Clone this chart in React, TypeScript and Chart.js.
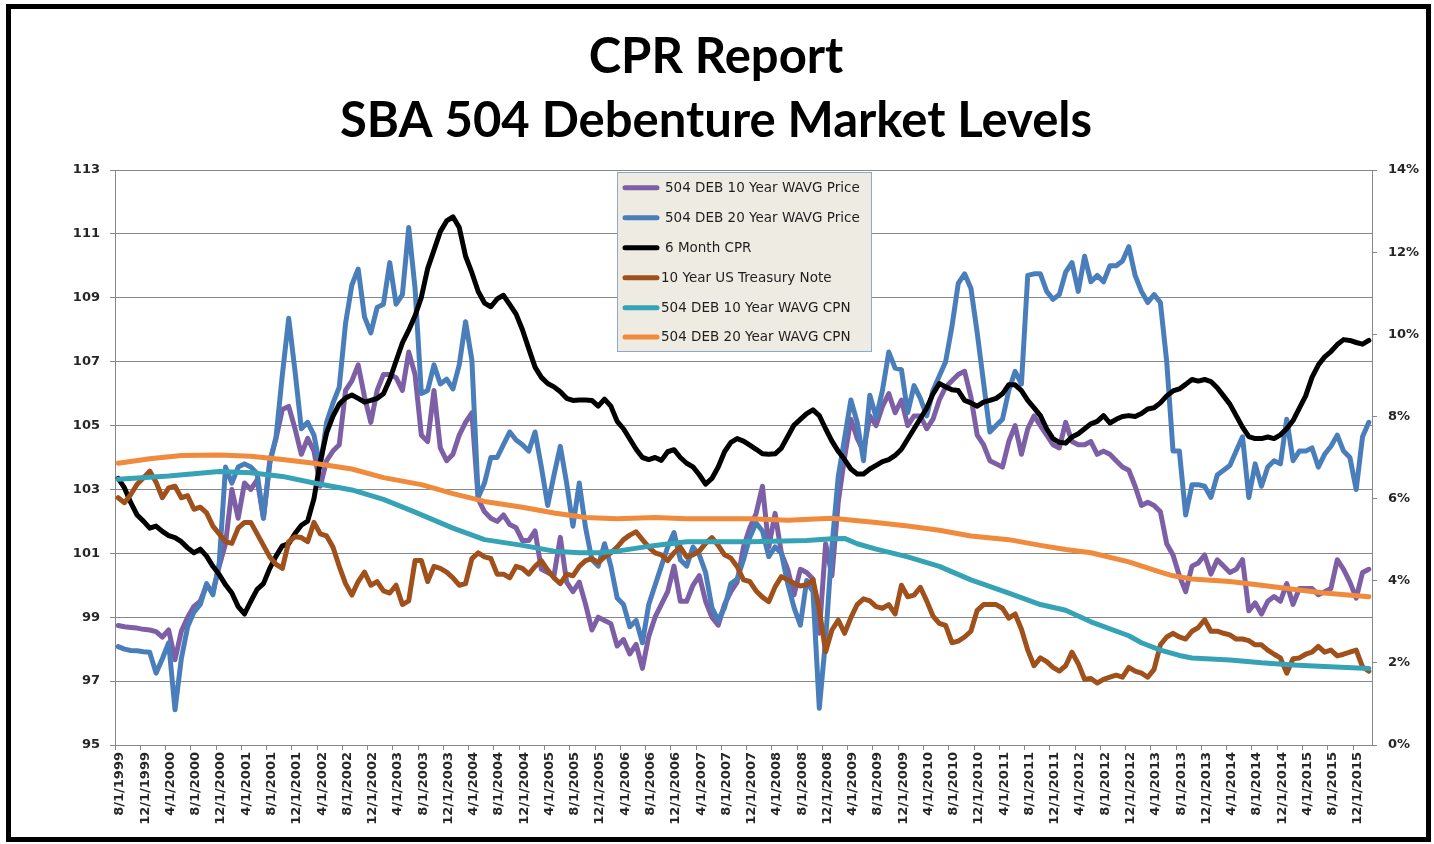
import React, { useEffect, useRef } from "react";
import { Chart, registerables } from "chart.js";

Chart.register(...registerables);

// ---------- DATA ----------
const titleLines = ["CPR Report", "SBA 504 Debenture Market Levels"];

// Month index 0 = 8/1/1999 ... 198 = 2/1/2016 ; x-axis labels every 4 months
const xTickLabels = [
  "8/1/1999", "12/1/1999",
  "4/1/2000", "8/1/2000", "12/1/2000",
  "4/1/2001", "8/1/2001", "12/1/2001",
  "4/1/2002", "8/1/2002", "12/1/2002",
  "4/1/2003", "8/1/2003", "12/1/2003",
  "4/1/2004", "8/1/2004", "12/1/2004",
  "4/1/2005", "8/1/2005", "12/1/2005",
  "4/1/2006", "8/1/2006", "12/1/2006",
  "4/1/2007", "8/1/2007", "12/1/2007",
  "4/1/2008", "8/1/2008", "12/1/2008",
  "4/1/2009", "8/1/2009", "12/1/2009",
  "4/1/2010", "8/1/2010", "12/1/2010",
  "4/1/2011", "8/1/2011", "12/1/2011",
  "4/1/2012", "8/1/2012", "12/1/2012",
  "4/1/2013", "8/1/2013", "12/1/2013",
  "4/1/2014", "8/1/2014", "12/1/2014",
  "4/1/2015", "8/1/2015", "12/1/2015",
];

const seriesNames = [
  "504 DEB 10 Year WAVG Price",
  "504 DEB 20 Year WAVG Price",
  "6 Month CPR",
  "10 Year US Treasury Note",
  "504 DEB 10 Year WAVG CPN",
  "504 DEB 20 Year WAVG CPN",
];

// monthly values, left axis (price)
const price10Year = [
  98.74, 98.7, 98.68, 98.66, 98.62, 98.6, 98.55, 98.38, 98.6, 97.67,
  98.56, 99.0, 99.34, 99.5, 100.0, 99.8, 100.6, 101.3, 103.0, 102.1,
  103.2, 103.0, 103.3, 102.1, 103.9, 104.6, 105.5, 105.6, 104.9, 104.1,
  104.6, 104.2, 103.1, 103.9, 104.2, 104.4, 106.1, 106.4, 106.9, 105.9,
  105.1, 106.1, 106.6, 106.6, 106.5, 106.1, 107.3, 106.6, 104.7, 104.5,
  106.1, 104.3, 103.9, 104.1, 104.7, 105.1, 105.4, 102.7, 102.3, 102.1,
  102.0, 102.2, 101.9, 101.8, 101.4, 101.4, 101.7, 100.5, 100.4, 100.3,
  101.5, 100.1, 99.8, 100.1, 99.4, 98.6, 99.0, 98.9, 98.8, 98.1,
  98.3, 97.85, 98.15, 97.4, 98.4, 99.0, 99.4, 99.8, 100.6, 99.5,
  99.5, 100.0, 100.3, 99.5, 99.0, 98.75, 99.4, 99.8, 100.1, 101.2,
  101.8, 102.25, 103.1, 101.2, 102.25, 101.0, 100.5, 99.7, 100.5, 100.4,
  100.2, 98.5, 101.3, 100.3, 102.6, 104.0, 105.2, 104.6, 104.2, 105.3,
  105.0, 105.6, 106.0, 105.4, 105.8, 105.0, 105.3, 105.3, 104.9, 105.2,
  105.8, 106.2, 106.4, 106.6, 106.7, 105.9, 104.7, 104.4, 103.9, 103.8,
  103.7, 104.5, 105.0, 104.1, 104.9, 105.3, 105.0, 104.7, 104.4, 104.3,
  105.1, 104.5, 104.4, 104.4, 104.5, 104.1, 104.2, 104.1, 103.9, 103.7,
  103.6, 103.1, 102.5, 102.6, 102.5, 102.3, 101.3, 100.95, 100.3, 99.8,
  100.6, 100.7, 100.95, 100.35, 100.8, 100.6, 100.4, 100.5, 100.8, 99.2,
  99.45, 99.1, 99.5, 99.65, 99.5, 100.05, 99.4, 99.9, 99.9, 99.9,
  99.7, 99.8, 99.9, 100.8, 100.5, 100.1, 99.6, 100.4, 100.5,
];

const price20Year = [
  98.08, 98.0, 97.96, 97.95, 97.92, 97.9, 97.25, 97.7, 98.2, 96.1,
  97.7, 98.7, 99.16, 99.4, 100.05, 99.7, 100.7, 103.7, 103.2, 103.7,
  103.8, 103.7, 103.5, 102.1, 103.8, 104.65, 106.6, 108.36, 106.7, 104.9,
  105.1, 104.7, 103.7, 105.1, 105.7, 106.2, 108.2, 109.4, 109.9, 108.4,
  107.9, 108.7, 108.8, 110.1, 108.8, 109.1, 111.2, 109.3, 106.0, 106.1,
  106.9, 106.3, 106.45, 106.15, 106.9, 108.25, 107.05, 102.75, 103.2, 104.0,
  104.0, 104.4, 104.8, 104.55, 104.4, 104.2, 104.8, 103.7, 102.5, 103.45,
  104.35, 103.2, 101.85, 103.2, 101.8, 100.8, 100.6, 101.3, 100.6, 99.6,
  99.4, 98.7, 98.9, 98.2, 99.4, 100.0, 100.6, 101.2, 101.65, 100.8,
  100.6, 101.2, 100.95, 100.4, 99.3, 98.9, 99.3, 100.05, 100.2, 100.8,
  101.5, 101.95, 101.7, 100.9, 101.2, 101.0, 100.05, 99.3, 98.75, 100.15,
  99.8, 96.15, 98.3, 101.2, 103.4, 104.6, 105.8, 105.1, 103.9, 105.95,
  105.25, 106.1, 107.3, 106.8, 106.75, 105.4, 106.25, 105.85, 105.3, 106.1,
  106.55, 107.0, 108.1, 109.45, 109.75, 109.3, 107.9, 106.35, 104.8, 105.0,
  105.2, 106.1, 106.7, 106.3, 109.7, 109.75, 109.75, 109.2, 108.95, 109.1,
  109.8, 110.1, 109.2, 110.3, 109.5, 109.7, 109.5, 110.0, 110.0, 110.15,
  110.6, 109.7, 109.2, 108.85, 109.1, 108.85, 107.0, 104.2, 104.2, 102.2,
  103.15, 103.15, 103.1, 102.75, 103.45, 103.6, 103.75, 104.2, 104.65, 102.75,
  103.8, 103.1, 103.7, 103.9, 103.8, 105.2, 103.9, 104.2, 104.2, 104.3,
  103.7, 104.1, 104.35, 104.7, 104.2, 104.0, 103.0, 104.65, 105.1,
];

// monthly values, right axis (%)
const cpr6Month = [
  6.49, 6.26, 5.9, 5.6, 5.45, 5.28, 5.33, 5.2, 5.1, 5.05,
  4.95, 4.8, 4.68, 4.77, 4.6, 4.35, 4.15, 3.9, 3.7, 3.37,
  3.19, 3.5, 3.79, 3.93, 4.3, 4.6, 4.85, 4.9, 5.15, 5.35,
  5.45, 6.0, 6.9, 7.6, 8.0, 8.3, 8.45, 8.52, 8.44, 8.35,
  8.39, 8.44, 8.55, 8.9, 9.35, 9.79, 10.1, 10.45, 10.9, 11.6,
  12.05, 12.5, 12.76, 12.86, 12.6, 11.9, 11.5, 11.04, 10.76, 10.67,
  10.86, 10.95, 10.72, 10.49, 10.11, 9.65, 9.2, 8.95, 8.8, 8.72,
  8.6, 8.44, 8.39, 8.4, 8.4, 8.39, 8.25, 8.42, 8.25, 7.88,
  7.7, 7.45, 7.2, 7.0, 6.95, 7.0, 6.93, 7.14, 7.19, 7.0,
  6.86, 6.77, 6.58, 6.35, 6.49, 6.77, 7.14, 7.37, 7.46, 7.4,
  7.3, 7.2, 7.09, 7.08, 7.09, 7.23, 7.51, 7.79, 7.93, 8.07,
  8.16, 8.02, 7.7, 7.4, 7.15, 6.95, 6.72, 6.6, 6.6, 6.72,
  6.81, 6.9, 6.95, 7.05, 7.2, 7.45, 7.7, 7.95, 8.2, 8.55,
  8.8, 8.72, 8.65, 8.63, 8.39, 8.33, 8.25, 8.35, 8.39, 8.44,
  8.55, 8.77, 8.77, 8.63, 8.39, 8.21, 8.02, 7.7, 7.46, 7.37,
  7.35, 7.5, 7.58, 7.7, 7.82, 7.88, 8.02, 7.84, 7.93, 8.0,
  8.02, 8.0, 8.07, 8.18, 8.21, 8.33, 8.5, 8.62, 8.67, 8.78,
  8.9, 8.86, 8.9, 8.85, 8.7, 8.5, 8.3, 8.02, 7.74, 7.51,
  7.46, 7.46, 7.5, 7.46, 7.55, 7.7, 7.9, 8.2, 8.5, 8.95,
  9.25, 9.45, 9.58, 9.75, 9.87, 9.85, 9.8, 9.76, 9.85,
];

const treasury10Year = [
  6.02, 5.9, 6.1, 6.35, 6.5, 6.67, 6.4, 6.02, 6.26, 6.3,
  6.02, 6.07, 5.74, 5.79, 5.65, 5.33, 5.14, 4.95, 4.91, 5.28,
  5.42, 5.42, 5.14, 4.86, 4.58, 4.4, 4.3, 4.95, 5.07, 5.05,
  4.95, 5.42, 5.14, 5.09, 4.82, 4.35, 3.93, 3.65, 3.98, 4.21,
  3.89, 3.98, 3.75, 3.7, 3.89, 3.42, 3.51, 4.49, 4.49, 3.98,
  4.35, 4.3, 4.21, 4.07, 3.89, 3.93, 4.54, 4.68, 4.58, 4.54,
  4.16, 4.16, 4.07, 4.35, 4.3, 4.16, 4.35, 4.49, 4.26, 4.07,
  3.93, 4.16, 4.12, 4.35, 4.49, 4.54, 4.44, 4.58, 4.68, 4.82,
  5.0, 5.11, 5.19, 5.0, 4.82, 4.68, 4.63, 4.49, 4.68, 4.82,
  4.58, 4.63, 4.72, 4.91, 5.05, 4.86, 4.63, 4.55, 4.34, 4.02,
  3.98, 3.75, 3.6, 3.49, 3.85, 4.1, 4.02, 3.94, 3.87, 3.9,
  4.02, 3.3, 2.27, 2.8, 3.04, 2.72, 3.1, 3.42, 3.56, 3.51,
  3.37, 3.33, 3.42, 3.19, 3.89, 3.61, 3.65, 3.84, 3.51, 3.14,
  2.96, 2.91, 2.49, 2.53, 2.63, 2.77, 3.28, 3.42, 3.42, 3.42,
  3.33, 3.09, 3.19, 2.82, 2.31, 1.93, 2.12, 2.03, 1.89, 1.8,
  1.93, 2.26, 1.98, 1.6, 1.62, 1.51, 1.6, 1.65, 1.7, 1.65,
  1.89, 1.8, 1.75, 1.65, 1.84, 2.44, 2.63, 2.72, 2.63, 2.58,
  2.77, 2.86, 3.05, 2.77, 2.77, 2.72, 2.68, 2.58, 2.58, 2.54,
  2.44, 2.44, 2.31, 2.21, 2.12, 1.75, 2.1, 2.12, 2.21, 2.26,
  2.4, 2.26, 2.31, 2.17, 2.21, 2.26, 2.31, 1.9, 1.8,
];

// smooth coupon series, read at selected months (right axis, %)
const cpn10Months = [0, 8, 16, 21, 26, 31, 37, 42, 47, 53, 58, 64, 69, 73, 76, 79, 85, 90, 100, 109, 113, 115, 117, 120, 125, 130, 135, 141, 146, 150, 154, 160, 162, 165, 168, 170, 176, 181, 186, 191, 198];
const cpn10Values = [6.47, 6.55, 6.66, 6.63, 6.54, 6.38, 6.21, 5.98, 5.67, 5.28, 5.0, 4.86, 4.72, 4.68, 4.68, 4.72, 4.86, 4.95, 4.95, 4.98, 5.02, 5.03, 4.9, 4.77, 4.58, 4.35, 4.02, 3.7, 3.42, 3.28, 3.0, 2.66, 2.49, 2.31, 2.18, 2.12, 2.07, 2.0, 1.95, 1.91, 1.86];

const cpn20Months = [0, 5, 10, 16, 21, 26, 31, 37, 42, 48, 53, 58, 64, 69, 74, 79, 85, 90, 100, 106, 113, 120, 125, 130, 135, 141, 146, 150, 154, 160, 165, 167, 170, 176, 181, 186, 191, 198];
const cpn20Values = [6.86, 6.97, 7.05, 7.06, 7.03, 6.95, 6.86, 6.72, 6.51, 6.34, 6.12, 5.93, 5.79, 5.65, 5.54, 5.51, 5.54, 5.51, 5.51, 5.47, 5.52, 5.42, 5.33, 5.23, 5.09, 5.0, 4.86, 4.76, 4.68, 4.46, 4.21, 4.12, 4.04, 3.98, 3.89, 3.79, 3.7, 3.61];

const seriesColors = ["#7D5FA5", "#4A7EBB", "#000000", "#A0501A", "#35A3B5", "#F08A3C"];

// ---------- HELPERS ----------
const monthly = (vals: number[]) => vals.map((v, i) => ({ x: i, y: v }));
const sparse = (months: number[], vals: number[]) => months.map((m, k) => ({ x: m, y: vals[k] }));

const GRID = "#878787";
const TEXT = "#262626";
const AXIS_FONT = "DejaVu Sans";

const decorPlugin = {
  id: "decor",
  afterDraw(chart: any) {
    const ctx = chart.ctx as CanvasRenderingContext2D;
    ctx.save();
    // title
    ctx.fillStyle = "#000";
    ctx.textAlign = "center";
    ctx.textBaseline = "alphabetic";
    ctx.font = "bold 49px Lato";
    ctx.fillText(titleLines[0], 716, 73);
    ctx.fillText(titleLines[1], 716, 137);

    // legend box
    const lx = 617, ly = 172, lw = 254, lh = 179;
    ctx.fillStyle = "#EEECE2";
    ctx.fillRect(lx, ly, lw, lh);
    ctx.strokeStyle = "#8DA8CC";
    ctx.lineWidth = 1;
    ctx.strokeRect(lx + 0.5, ly + 0.5, lw, lh);
    const rowY = [187.7, 217.7, 247.7, 277.7, 307.7, 337];
    const textX = [665, 665, 665, 661, 661, 661];
    ctx.font = "13.5px " + AXIS_FONT;
    ctx.textAlign = "left";
    ctx.textBaseline = "middle";
    seriesNames.forEach((name, k) => {
      ctx.strokeStyle = seriesColors[k];
      ctx.lineWidth = 5;
      ctx.lineCap = "round";
      ctx.beginPath();
      ctx.moveTo(625, rowY[k]);
      ctx.lineTo(657, rowY[k]);
      ctx.stroke();
      ctx.fillStyle = "#1E1E1E";
      ctx.fillText(name, textX[k], rowY[k] + 0.5);
    });

    // outer frame
    ctx.strokeStyle = "#000";
    ctx.lineWidth = 5;
    ctx.lineCap = "butt";
    ctx.strokeRect(8.5, 6.5, 1420, 833);
    ctx.restore();
  },
};

export default function App() {
  const ref = useRef<HTMLCanvasElement>(null);

  useEffect(() => {
    if (!ref.current) return;
    const axisIds = ["y", "y", "y2", "y2", "y2", "y2"];
    const dataSets = [
      monthly(price10Year),
      monthly(price20Year),
      monthly(cpr6Month),
      monthly(treasury10Year),
      sparse(cpn10Months, cpn10Values),
      sparse(cpn20Months, cpn20Values),
    ];
    const chart = new Chart(ref.current, {
      type: "line",
      data: {
        datasets: dataSets.map((d, k) => ({
          label: seriesNames[k],
          data: d,
          borderColor: seriesColors[k],
          backgroundColor: seriesColors[k],
          borderWidth: 5,
          pointRadius: 0,
          pointHoverRadius: 0,
          tension: 0,
          fill: false,
          yAxisID: axisIds[k],
          order: 5 - k,
          borderJoinStyle: "round" as const,
          borderCapStyle: "round" as const,
        })),
      },
      options: {
        responsive: false,
        animation: false,
        devicePixelRatio: 1,
        layout: { padding: { top: 170, left: 0, right: 0, bottom: 0 } },
        plugins: {
          legend: { display: false },
          title: { display: false },
          tooltip: { enabled: false },
        },
        events: [],
        scales: {
          x: {
            type: "linear",
            min: -0.5,
            max: 198.5,
            afterBuildTicks: (axis: any) => {
              axis.ticks = xTickLabels.map((_, k) => ({ value: 4 * k - 0.5 }));
            },
            afterFit: (s: any) => {
              s.height = 99;
            },
            ticks: {
              autoSkip: false,
              minRotation: 90,
              maxRotation: 90,
              labelOffset: 5,
              padding: 2,
              color: TEXT,
              font: { family: AXIS_FONT, size: 13, weight: "bold" },
              callback: (_v: any, idx: number) => xTickLabels[idx],
            },
            grid: { drawOnChartArea: false, tickLength: 5, color: GRID },
            border: { color: GRID },
          },
          y: {
            position: "left",
            min: 95,
            max: 113,
            afterFit: (s: any) => {
              s.width = 115;
            },
            ticks: {
              stepSize: 2,
              padding: 10,
              color: TEXT,
              font: { family: AXIS_FONT, size: 13, weight: "bold" },
            },
            grid: { color: GRID, tickLength: 5 },
            border: { color: GRID },
          },
          y2: {
            position: "right",
            min: 0,
            max: 14,
            afterFit: (s: any) => {
              s.width = 62;
            },
            ticks: {
              stepSize: 2,
              padding: 11,
              color: TEXT,
              font: { family: AXIS_FONT, size: 13, weight: "bold" },
              callback: (v: any) => v + "%",
            },
            grid: { drawOnChartArea: false, tickLength: 5, color: GRID },
            border: { color: GRID },
          },
        },
      },
      plugins: [decorPlugin],
    } as any);
    return () => chart.destroy();
  }, []);

  return (
    <div style={{ position: "absolute", left: 0, top: 0, width: 1434, height: 844, background: "#fff" }}>
      <canvas ref={ref} width={1434} height={844} style={{ width: 1434, height: 844, display: "block" }} />
    </div>
  );
}
